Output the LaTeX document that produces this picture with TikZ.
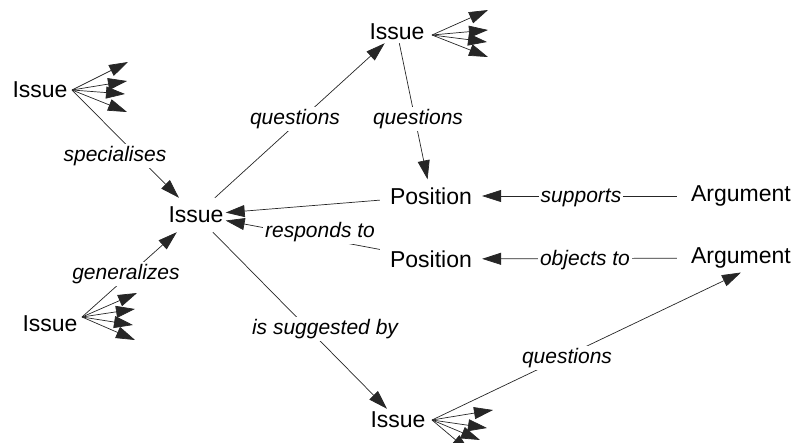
\documentclass[tikz,border=0pt]{standalone}
\usepackage{fontspec}
\setmainfont{Liberation Sans}
\usetikzlibrary{arrows.meta}
\begin{document}
\begin{tikzpicture}[x=1pt,y=-1pt,
  concept/.style={font=\fontsize{23}{25}\selectfont, inner sep=3pt},
  wide/.style={concept, inner xsep=10pt, inner ysep=8pt},
  rel/.style={draw=black!85, line width=0.7pt, -{Triangle[length=19pt,width=12pt]}},
  lbl/.style={font=\fontsize{21}{23}\selectfont\itshape, fill=white, inner sep=2pt},
]
\useasboundingbox (0,0) rectangle (795,442);

% concepts
\node[concept] (i1) at (40,90) {Issue};
\node[concept] (i2) at (397,32) {Issue};
\node[concept] (i3) at (50,324) {Issue};
\node[concept] (i4) at (398,420) {Issue};
\node[concept, inner xsep=2pt, inner ysep=9pt] (c) at (196,215) {Issue};
\node[wide] (p1) at (431,196) {Position};
\node[wide] (p2) at (431,259) {Position};
\node[wide, inner xsep=14pt] (a1) at (741,196) {Argument};
\node[wide, inner xsep=14pt, inner ysep=4pt] (a2) at (741,258) {Argument};

% open-ended fans of further links
\coordinate (i1o) at (72,90);
\coordinate (i2o) at (432,35);
\coordinate (i3o) at (82,317);
\coordinate (i4o) at (432,420);
\foreach \x/\y in {128/62, 127/81, 125/94, 127/112}
  \draw[rel] (i1o) -- (\x,\y);
\foreach \x/\y in {488/10, 488/30, 487/42, 488/57}
  \draw[rel] (i2o) -- (\x,\y);
\foreach \x/\y in {137/293, 135/309, 133/325, 135/340}
  \draw[rel] (i3o) -- (\x,\y);
\foreach \x/\y in {493/410, 487/428, 480/440, 470/452}
  \draw[rel] (i4o) -- (\x,\y);

% relations
\draw[rel] (i1o) -- (c);
\draw[rel] (i3o) -- (c);
\draw[rel] (c) -- (i2);
\draw[rel] (i2) -- (p1);
\draw[rel] (p1) -- (c);
\draw[rel] (p2) -- (c);
\draw[rel] (a1) -- (p1);
\draw[rel] (a2) -- (p2);
\draw[rel] (c) -- (i4);
\draw[rel] (i4o) -- (a2.south);

% relation labels
\node[lbl] (l1) at (115,156) {specialises};
\node[lbl] (l2) at (126,274) {generalizes};
\node[lbl] (l3) at (295,119) {questions};
\node[lbl] (l4) at (418,119) {questions};
\node[lbl] (l5) at (320,232) {responds to};
\node[lbl] (l6) at (581,198) {supports};
\node[lbl] (l7) at (585,260) {objects to};
\node[lbl] (l8) at (325,329) {is suggested by};
\node[lbl] (l9) at (567,358) {questions};
\end{tikzpicture}
\end{document}
